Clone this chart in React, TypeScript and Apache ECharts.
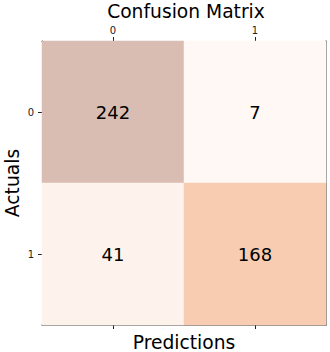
import React, { useEffect, useRef } from "react";
import * as echarts from "echarts";

const predLabels = ["0", "1"];
const actualLabels = ["0", "1"];
// rows: actual, cols: predicted
const matrix = [
  [242, 7],
  [41, 168],
];
const cellColors = [
  ["#d9bdb3", "#fff8f4"],
  ["#fdf3ec", "#f7ccb1"],
];

const FONT = "DejaVu Sans";

export default function App() {
  const ref = useRef<HTMLDivElement>(null);
  useEffect(() => {
    if (!ref.current) return;
    const chart = echarts.init(ref.current, null, { renderer: "svg" });
    const data: any[] = [];
    const pieces: any[] = [];
    matrix.forEach((row, r) =>
      row.forEach((v, c) => {
        data.push([c, r, v]);
        pieces.push({ value: v, color: cellColors[r][c] });
      })
    );
    chart.setOption({
      animation: false,
      textStyle: { fontFamily: FONT },
      title: {
        text: "Confusion Matrix",
        left: 184,
        textAlign: "center",
        top: 0,
        padding: 2,
        textStyle: { fontFamily: FONT, fontSize: 18.7, fontWeight: "normal", color: "#000" },
      },
      graphic: [
        {
          type: "text",
          x: 12,
          y: 183,
          rotation: Math.PI / 2,
          style: {
            text: "Actuals",
            fontFamily: FONT,
            fontSize: 18.7,
            fill: "#000",
            align: "center",
            verticalAlign: "middle",
          },
        },
      ],
      grid: {
        left: 42,
        top: 41,
        width: 284,
        height: 284,
        containLabel: false,
        outerBoundsMode: "none",
      },
      visualMap: {
        type: "piecewise",
        show: false,
        dimension: 2,
        pieces,
      },
      xAxis: [
        {
          type: "category",
          data: predLabels,
          position: "top",
          axisLine: { show: true, lineStyle: { color: "#222", width: 1 } },
          axisTick: { show: true, alignWithLabel: true, length: 4, lineStyle: { color: "#222" } },
          axisLabel: { fontFamily: FONT, fontSize: 10, color: "#222", margin: 6 },
          splitLine: { show: false },
        },
        {
          type: "category",
          data: predLabels,
          position: "bottom",
          name: "Predictions",
          nameLocation: "middle",
          nameGap: 8,
          nameTextStyle: { fontFamily: FONT, fontSize: 18.7, color: "#000", verticalAlign: "top" },
          axisLine: { show: true, lineStyle: { color: "#666", width: 1.5 } },
          axisTick: { show: true, alignWithLabel: true, length: 4, lineStyle: { color: "#222" } },
          axisLabel: { show: false },
          splitLine: { show: false },
        },
      ],
      yAxis: [
        {
          type: "category",
          data: actualLabels,
          inverse: true,
          position: "left",
          axisLine: { show: true, lineStyle: { color: "#222", width: 1 } },
          axisTick: { show: true, alignWithLabel: true, length: 4, lineStyle: { color: "#222" } },
          axisLabel: { fontFamily: FONT, fontSize: 10, color: "#222", margin: 8 },
          splitLine: { show: false },
        },
        {
          type: "category",
          data: actualLabels,
          inverse: true,
          position: "right",
          axisLine: { show: true, lineStyle: { color: "#666", width: 1.5 } },
          axisTick: { show: false },
          axisLabel: { show: false },
          splitLine: { show: false },
        },
      ],
      series: [
        {
          type: "heatmap",
          xAxisIndex: 0,
          yAxisIndex: 0,
          data,
          label: {
            show: true,
            fontFamily: FONT,
            fontSize: 18,
            color: "#000",
            formatter: (p: any) => String(p.value[2]),
          },
          itemStyle: { borderWidth: 0 },
          emphasis: { disabled: true },
        },
      ],
    });
    return () => chart.dispose();
  }, []);
  return (
    <div
      ref={ref}
      style={{ position: "fixed", left: 0, top: 0, width: 330, height: 352, background: "#fff" }}
    />
  );
}
